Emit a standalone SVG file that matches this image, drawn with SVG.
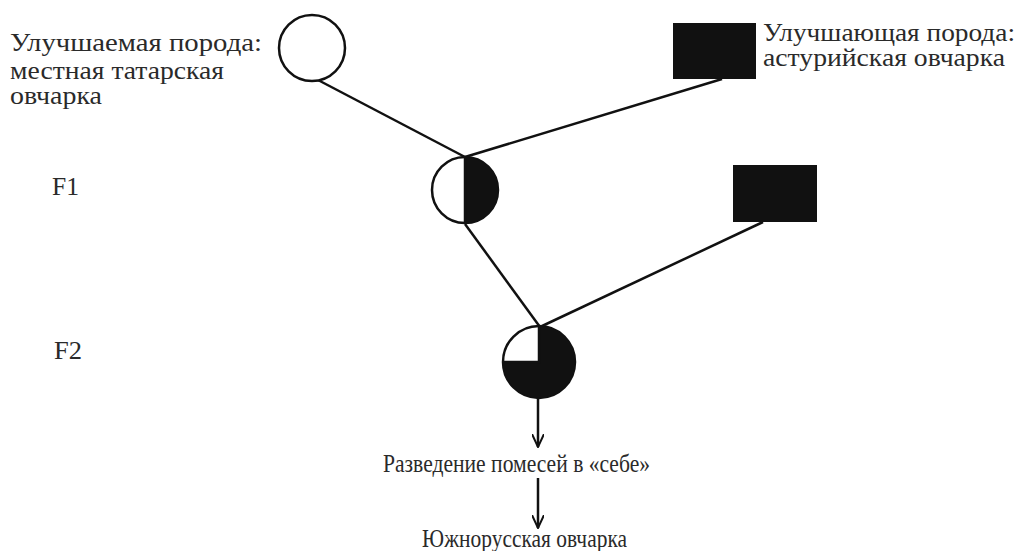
<svg xmlns="http://www.w3.org/2000/svg" width="1019" height="551" viewBox="0 0 1019 551">
<defs>
<marker id="ah" viewBox="0 0 14 12" refX="13" refY="6" markerWidth="14" markerHeight="12" markerUnits="userSpaceOnUse" orient="auto">
<path d="M0,0 L13,6 L0,12" fill="none" stroke="#111" stroke-width="2"/>
</marker>
<style>
.t{font-family:'Liberation Serif','DejaVu Serif',serif;font-size:25px;fill:#2a2a2a}
.ln{stroke:#111;stroke-width:2.5;fill:none}
.sh{stroke:#111;stroke-width:2.5}
</style>
</defs>
<rect width="1019" height="551" fill="#fff"/>
<g id="connectors">
<line class="ln" x1="318" y1="80" x2="465" y2="157"/>
<line class="ln" x1="722" y1="79" x2="465" y2="157"/>
<line class="ln" x1="465" y1="224" x2="540" y2="327"/>
<line class="ln" x1="763" y1="222" x2="540" y2="327"/>
<line class="ln" x1="538" y1="398" x2="538" y2="447" marker-end="url(#ah)"/>
<line class="ln" x1="538" y1="478" x2="538" y2="528" marker-end="url(#ah)"/>
</g>
<g id="parent1">
<circle class="sh" cx="312" cy="48" r="33" fill="#fff"/>
<text class="t" x="10" y="51" textLength="252" lengthAdjust="spacingAndGlyphs">Улучшаемая порода:</text>
<text class="t" x="10" y="79" textLength="214" lengthAdjust="spacingAndGlyphs">местная татарская</text>
<text class="t" x="10" y="104" textLength="92" lengthAdjust="spacingAndGlyphs">овчарка</text>
</g>
<g id="parent2">
<rect x="673" y="23" width="83" height="56" fill="#111"/>
<text class="t" x="763" y="41" textLength="252" lengthAdjust="spacingAndGlyphs">Улучшающая порода:</text>
<text class="t" x="763" y="66" textLength="242" lengthAdjust="spacingAndGlyphs">астурийская овчарка</text>
</g>
<g id="f1">
<circle class="sh" cx="465" cy="190" r="33" fill="#fff"/>
<path d="M465,157 A33,33 0 0 1 465,223 Z" fill="#111"/>
<line class="ln" x1="465" y1="157" x2="465" y2="223"/>
<text class="t" x="52" y="195" textLength="27" lengthAdjust="spacingAndGlyphs">F1</text>
</g>
<g id="f1mate">
<rect x="733" y="165" width="84" height="57" fill="#111"/>
</g>
<g id="f2">
<circle class="sh" cx="539" cy="362" r="36" fill="#fff"/>
<path d="M539,362 L539,326 A36,36 0 0 1 575,362 A36,36 0 0 1 503,362 Z" fill="#111"/>
<path d="M503,362 L539,362 L539,326" class="ln"/>
<text class="t" x="54" y="359" textLength="28" lengthAdjust="spacingAndGlyphs">F2</text>
</g>
<g id="step">
<text class="t" x="383" y="472" textLength="267" lengthAdjust="spacingAndGlyphs">Разведение помесей в «себе»</text>
</g>
<g id="result">
<text class="t" x="422" y="547" textLength="205" lengthAdjust="spacingAndGlyphs">Южнорусская овчарка</text>
</g>
</svg>
